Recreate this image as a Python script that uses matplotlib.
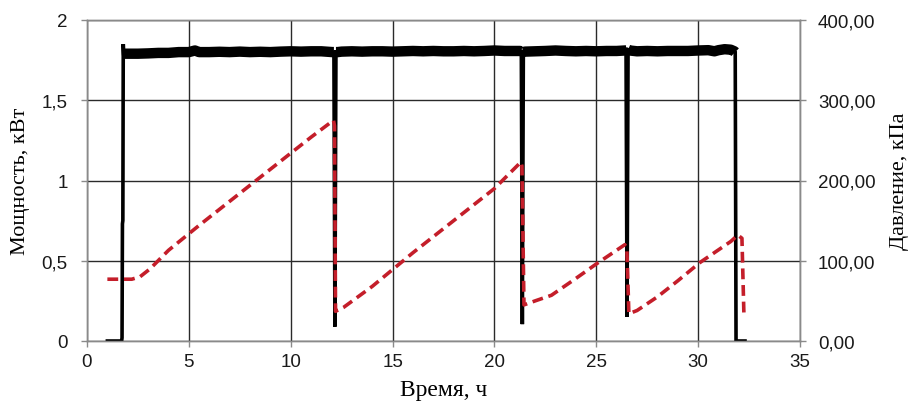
import numpy as np
import matplotlib
matplotlib.use("Agg")
import matplotlib.pyplot as plt
from matplotlib.ticker import FuncFormatter

# ---- data: power, kW (left axis) ----
t_power = [1.0, 1.70, 1.72, 1.74, 1.76, 1.78, 1.80, 2.0, 2.5, 3.0, 3.5, 4.0, 4.5, 5.0, 5.3,
           5.5, 6.0, 6.5, 7.0, 7.5, 8.0, 8.5, 9.0, 9.5, 10.0, 10.5, 11.0, 11.5, 12.05,
           12.12, 12.17, 12.22, 12.3,
           12.5, 13.0, 13.5, 14.0, 14.5, 15.0, 15.5, 16.0, 16.5, 17.0, 17.5, 18.0, 18.5,
           19.0, 19.5, 20.0, 20.5, 21.0, 21.25,
           21.32, 21.37, 21.42, 21.5,
           22.0, 22.5, 23.0, 23.5, 24.0, 24.5, 25.0, 25.5, 26.0, 26.4,
           26.46, 26.51, 26.56, 26.65,
           27.0, 27.5, 28.0, 28.5, 29.0, 29.5, 30.0, 30.5, 30.8, 31.0, 31.3, 31.6, 31.78,
           31.82, 31.86, 32.3]
p_power = [0.0, 0.0, 0.02, 0.73, 0.75, 1.85, 1.79, 1.79, 1.79, 1.792, 1.795, 1.795, 1.80, 1.80, 1.81,
           1.80, 1.80, 1.802, 1.80, 1.803, 1.80, 1.802, 1.80, 1.803, 1.805, 1.803, 1.805, 1.805, 1.80,
           1.80, 0.09, 1.80, 1.80,
           1.803, 1.805, 1.803, 1.805, 1.805, 1.803, 1.805, 1.807, 1.805, 1.807, 1.805, 1.805, 1.807,
           1.805, 1.807, 1.81, 1.807, 1.807, 1.807,
           1.805, 0.105, 1.80, 1.803,
           1.805, 1.807, 1.81, 1.807, 1.805, 1.807, 1.805, 1.807, 1.807, 1.81,
           1.81, 0.15, 1.815, 1.81,
           1.805, 1.807, 1.805, 1.807, 1.807, 1.807, 1.81, 1.812, 1.805, 1.812, 1.818, 1.815, 1.805,
           1.80, 0.0, 0.0]

# ---- data: pressure, kPa (right axis) ----
t_press = [1.0, 2.2, 2.6, 3.1, 4.0, 5.5, 7.0, 9.0, 11.0, 12.1, 12.15,
           12.2, 12.6, 14.0, 16.0, 18.0, 20.0, 21.3, 21.35,
           21.45, 22.0, 22.8, 24.0, 25.0, 26.4, 26.5,
           26.6, 27.0, 28.0, 29.0, 30.1, 31.6, 31.95, 32.15, 32.25]
p_press = [77, 77, 80, 90, 113, 144, 174, 214, 254, 275, 268,
           37, 42, 68, 110, 150, 190, 223, 218,
           45, 50, 57, 78, 96, 120, 116,
           34, 38, 55, 75, 98, 124, 132, 128, 30]

x_ticks = [0, 5, 10, 15, 20, 25, 30, 35]
left_ticks = [0, 0.5, 1, 1.5, 2]
right_ticks = [0, 100, 200, 300, 400]

tick_font = "Liberation Sans"
label_font = "Liberation Serif"
red = "#c41e2a"
grid_col = "#2a2a2a"
spine_col = "#8a8a8a"

fig = plt.figure(figsize=(9.18, 4.10), dpi=100)
ax = fig.add_axes([87/918, 1-342/410, (800-87)/918, (342-21)/410])
ax2 = ax.twinx()

tp = np.array(t_power)
pp = np.array(p_power)
ax.plot(tp, pp, color="black", lw=2.6, zorder=3, solid_joinstyle="miter")
band = np.where((pp > 1.5) & (pp < 1.84), pp, np.nan)
ax.plot(tp, band, color="black", lw=7.5, zorder=3, solid_capstyle="butt")

ax2.plot(t_press, p_press, color=red, lw=2.6, dashes=(3.0, 1.6), zorder=4)

ax.set_xlim(0, 35)
ax.set_ylim(0, 2)
ax2.set_ylim(0, 400)
ax.set_xticks(x_ticks)
ax.set_yticks(left_ticks)
ax2.set_yticks(right_ticks)

ax.grid(True, color=grid_col, lw=1.0, zorder=0)
ax.set_axisbelow(True)

ax.yaxis.set_major_formatter(FuncFormatter(lambda v, p: ("%g" % v).replace(".", ",")))
ax2.yaxis.set_major_formatter(FuncFormatter(lambda v, p: ("%.2f" % v).replace(".", ",")))

for a in (ax, ax2):
    for s in a.spines.values():
        s.set_color(spine_col)
        s.set_linewidth(1.0)
    a.tick_params(direction="out", length=4, width=1.0, color=spine_col,
                  labelsize=13.5)
    for lab in a.get_xticklabels() + a.get_yticklabels():
        lab.set_fontfamily(tick_font)
        lab.set_color("#1a1a1a")
ax.tick_params(axis="y", pad=10)
ax2.tick_params(axis="y", pad=9)
ax.tick_params(axis="x", pad=5)

ax.set_xlabel("Время, ч", fontfamily=label_font, fontsize=17, labelpad=6)
ax.set_ylabel("Мощность, кВт", fontfamily=label_font, fontsize=16, labelpad=8)
ax2.set_ylabel("Давление, кПа", fontfamily=label_font, fontsize=16, labelpad=10)

fig.savefig("out.png", dpi=100)
